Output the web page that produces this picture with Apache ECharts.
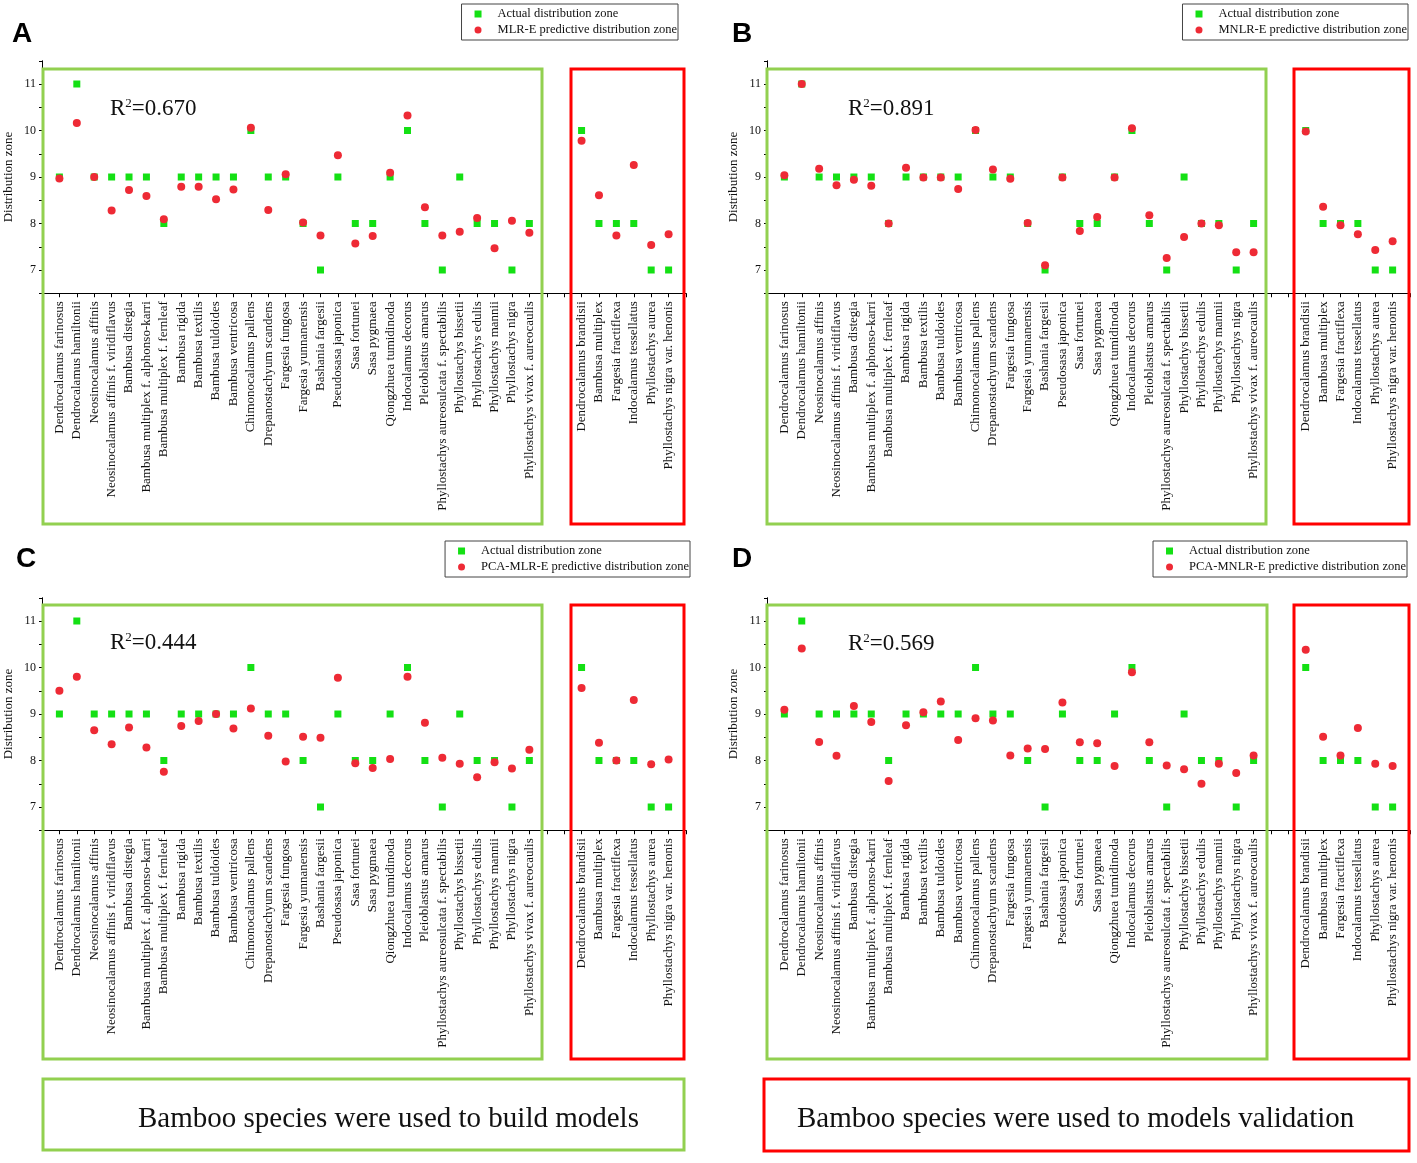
<!DOCTYPE html>
<html>
<head>
<meta charset="utf-8">
<script src="https://cdn.jsdelivr.net/npm/echarts@6/dist/echarts.min.js"></script>
<style>
  html, body { margin: 0; padding: 0; background: #fff; }
  #app { width: 1417px; height: 1163px; }
</style>
</head>
<body>
<div id="app"></div>
<script>
// species used to build the models and to validate them
const trainSpecies = [
  'Dendrocalamus farinosus', 'Dendrocalamus hamiltonii', 'Neosinocalamus affinis',
  'Neosinocalamus affinis f. viridiflavus', 'Bambusa distegia', 'Bambusa multiplex f. alphonso-karri',
  'Bambusa multiplex f. fernleaf', 'Bambusa rigida', 'Bambusa textilis', 'Bambusa tuldoides',
  'Bambusa ventricosa', 'Chimonocalamus pallens', 'Drepanostachyum scandens', 'Fargesia fungosa',
  'Fargesia yunnanensis', 'Bashania fargesii', 'Pseudosasa japonica', 'Sasa fortunei', 'Sasa pygmaea',
  'Qiongzhuea tumidinoda', 'Indocalamus decorus', 'Pleioblastus amarus',
  'Phyllostachys aureosulcata f. spectabilis', 'Phyllostachys bissetii', 'Phyllostachys edulis',
  'Phyllostachys mannii', 'Phyllostachys nigra', 'Phyllostachys vivax f. aureocaulis'
]
const validSpecies = [
  'Dendrocalamus brandisii', 'Bambusa multiplex', 'Fargesia fractiflexa',
  'Indocalamus tessellatus', 'Phyllostachys aurea', 'Phyllostachys nigra var. henonis'
]

const actualTrain = [9, 11, 9, 9, 9, 9, 8, 9, 9, 9, 9, 10, 9, 9, 8, 7, 9, 8, 8, 9, 10, 8, 7, 9, 8, 8, 7, 8]
const actualValid = [10, 8, 8, 8, 7, 7]

const mlrTrain = [8.97, 10.16, 9.0, 8.28, 8.72, 8.59, 8.09, 8.79, 8.79, 8.52, 8.73, 10.06, 8.29, 9.06,
  8.02, 7.74, 9.47, 7.57, 7.73, 9.09, 10.32, 8.35, 7.74, 7.82, 8.12, 7.47, 8.06, 7.80]
const mlrValid = [9.78, 8.61, 7.74, 9.26, 7.54, 7.77]

const mnlrTrain = [9.04, 11.0, 9.18, 8.82, 8.94, 8.81, 8.0, 9.2, 8.99, 8.99, 8.74, 10.01, 9.16, 8.96,
  8.01, 7.1, 8.99, 7.84, 8.14, 8.99, 10.05, 8.18, 7.26, 7.71, 8.0, 7.96, 7.38, 7.38]
const mnlrValid = [9.98, 8.36, 7.96, 7.77, 7.43, 7.62]

const pcaMlrTrain = [9.5, 9.80, 8.65, 8.35, 8.71, 8.28, 7.76, 8.74, 8.85, 9.0, 8.69, 9.12, 8.53, 7.98,
  8.51, 8.49, 9.78, 7.94, 7.84, 8.03, 9.80, 8.81, 8.06, 7.93, 7.64, 7.96, 7.83, 8.23]
const pcaMlrValid = [9.56, 8.38, 8.0, 9.30, 7.92, 8.02]

const pcaMnlrTrain = [9.09, 10.41, 8.40, 8.10, 9.17, 8.83, 7.56, 8.76, 9.04, 9.27, 8.44, 8.91, 8.86, 8.11,
  8.26, 8.25, 9.25, 8.39, 8.37, 7.88, 9.90, 8.39, 7.89, 7.81, 7.50, 7.93, 7.73, 8.11]
const pcaMnlrValid = [10.38, 8.51, 8.11, 8.70, 7.93, 7.88]

const yTicks = [6.5, 11.5]

const actualName = 'Actual distribution zone'
const models = [
  { key: 'A', name: 'MLR-E predictive distribution zone', r2: '0.670', train: mlrTrain, valid: mlrValid },
  { key: 'B', name: 'MNLR-E predictive distribution zone', r2: '0.891', train: mnlrTrain, valid: mnlrValid },
  { key: 'C', name: 'PCA-MLR-E predictive distribution zone', r2: '0.444', train: pcaMlrTrain, valid: pcaMlrValid },
  { key: 'D', name: 'PCA-MNLR-E predictive distribution zone', r2: '0.569', train: pcaMnlrTrain, valid: pcaMnlrValid }
]

// pixel layout of each panel
const layout = [
  { grid: [42, 60.75, 644, 232.5], letter: [12, 35], legend: [739, 4], r2: [110, 109],
    green: [43, 69, 542, 524], red: [571, 69, 684, 524] },
  { grid: [767, 60.75, 643, 232.5], letter: [732, 35], legend: [9, 4], r2: [848, 109],
    green: [767, 69, 1266, 524], red: [1294, 69, 1409, 524] },
  { grid: [42, 597.75, 644, 232.5], letter: [16, 560], legend: [727, 541], r2: [110, 643],
    green: [43, 605, 542, 1059], red: [571, 605, 684, 1059] },
  { grid: [767, 597.75, 643, 232.5], letter: [732, 560], legend: [10, 541], r2: [848, 644],
    green: [767, 605, 1267, 1059], red: [1294, 605, 1409, 1059] }
]

const serif = 'Liberation Serif'
const green = '#92d050'
const red = '#ff0000'

const categories = ['', ...trainSpecies, '', '', ...validSpecies, '']
const pad = (t, v) => ['-', ...t, '-', '-', ...v, '-']

const app = document.getElementById('app')
const echart = echarts.init(app)

const grid = [], xAxis = [], yAxis = [], series = [], legend = [], graphic = []

models.forEach((m, i) => {
  const L = layout[i]
  grid.push({ left: L.grid[0], top: L.grid[1], width: L.grid[2], height: L.grid[3], outerBoundsMode: 'none' })
  xAxis.push({
    type: 'category',
    gridIndex: i,
    data: categories,
    boundaryGap: false,
    axisLine: { lineStyle: { color: '#000', width: 1 } },
    axisTick: { interval: 0, length: 4, lineStyle: { color: '#000' } },
    axisLabel: {
      interval: 0,
      rotate: 90,
      margin: 8,
      color: '#111',
      fontFamily: serif,
      fontSize: 13
    },
    splitLine: { show: false }
  })
  yAxis.push({
    type: 'value',
    gridIndex: i,
    min: yTicks[0],
    max: yTicks[1],
    interval: 0.5,
    name: 'Distribution zone',
    nameLocation: 'middle',
    nameGap: 27,
    nameTextStyle: { fontFamily: serif, fontSize: 13, color: '#111' },
    axisLine: { show: true, lineStyle: { color: '#000', width: 1 } },
    axisTick: { show: true, length: 3, lineStyle: { color: '#000' } },
    axisLabel: {
      color: '#111',
      fontFamily: serif,
      fontSize: 12,
      margin: 6,
      formatter: v => (Number.isInteger(v) ? String(v) : '')
    },
    splitLine: { show: false }
  })
  series.push({
    name: actualName,
    type: 'scatter',
    xAxisIndex: i,
    yAxisIndex: i,
    symbol: 'rect',
    symbolSize: 7,
    itemStyle: { color: '#14e014', opacity: 1 },
    z: 2,
    data: pad(actualTrain, actualValid)
  })
  series.push({
    name: m.name,
    type: 'scatter',
    xAxisIndex: i,
    yAxisIndex: i,
    symbol: 'circle',
    symbolSize: 8,
    itemStyle: { color: '#ee2a35', opacity: 1 },
    z: 3,
    data: pad(m.train, m.valid)
  })
  legend.push({
    orient: 'vertical',
    right: L.legend[0],
    top: L.legend[1],
    data: [{ name: actualName, icon: 'rect' }, { name: m.name, icon: 'circle' }],
    itemWidth: 7,
    itemHeight: 7,
    itemGap: 2,
    padding: [3, 1, 3, 13],
    borderColor: '#444',
    borderWidth: 1,
    selectedMode: false,
    textStyle: { fontFamily: serif, fontSize: 12.5, color: '#111', lineHeight: 14, padding: [0, 0, 0, 11] }
  })
  graphic.push({
    type: 'text',
    left: L.letter[0],
    top: L.letter[1] - 15,
    style: { text: m.key, font: 'bold 28px "Liberation Sans"', fill: '#000' }
  })
  graphic.push({
    type: 'text',
    x: L.r2[0],
    y: L.r2[1],
    style: {
      text: '{a|R}{b|2}{a|=' + m.r2 + '}',
      verticalAlign: 'middle',
      rich: {
        a: { fontFamily: serif, fontSize: 23, fill: '#111', color: '#111' },
        b: { fontFamily: serif, fontSize: 13, fill: '#111', color: '#111', verticalAlign: 'top', padding: [0, 0, 9, 0] }
      }
    },
    z: 10
  })
  ;[[L.green, green], [L.red, red]].forEach(([b, c]) => {
    graphic.push({
      type: 'rect',
      shape: { x: b[0], y: b[1], width: b[2] - b[0], height: b[3] - b[1] },
      style: { fill: 'none', stroke: c, lineWidth: 3 },
      silent: true,
      z: 20
    })
  })
})

// boxes at the bottom
const captions = [
  { box: [43, 1079, 684, 1150], textX: 138, color: green, text: 'Bamboo species were used to build models' },
  { box: [764, 1079, 1409, 1151], textX: 797, color: red, text: 'Bamboo species were used to models validation' }
]
captions.forEach(c => {
  const b = c.box
  graphic.push({
    type: 'rect',
    shape: { x: b[0], y: b[1], width: b[2] - b[0], height: b[3] - b[1] },
    style: { fill: 'none', stroke: c.color, lineWidth: 3 },
    silent: true
  })
  graphic.push({
    type: 'text',
    x: c.textX,
    y: 1119,
    style: {
      text: c.text,
      font: '29px "Liberation Serif"',
      fill: '#111',
      align: 'left',
      verticalAlign: 'middle'
    }
  })
})

echart.setOption({
  animation: false,
  backgroundColor: '#fff',
  grid: grid,
  xAxis: xAxis,
  yAxis: yAxis,
  legend: legend,
  series: series,
  graphic: graphic
})
</script>
</body>
</html>
